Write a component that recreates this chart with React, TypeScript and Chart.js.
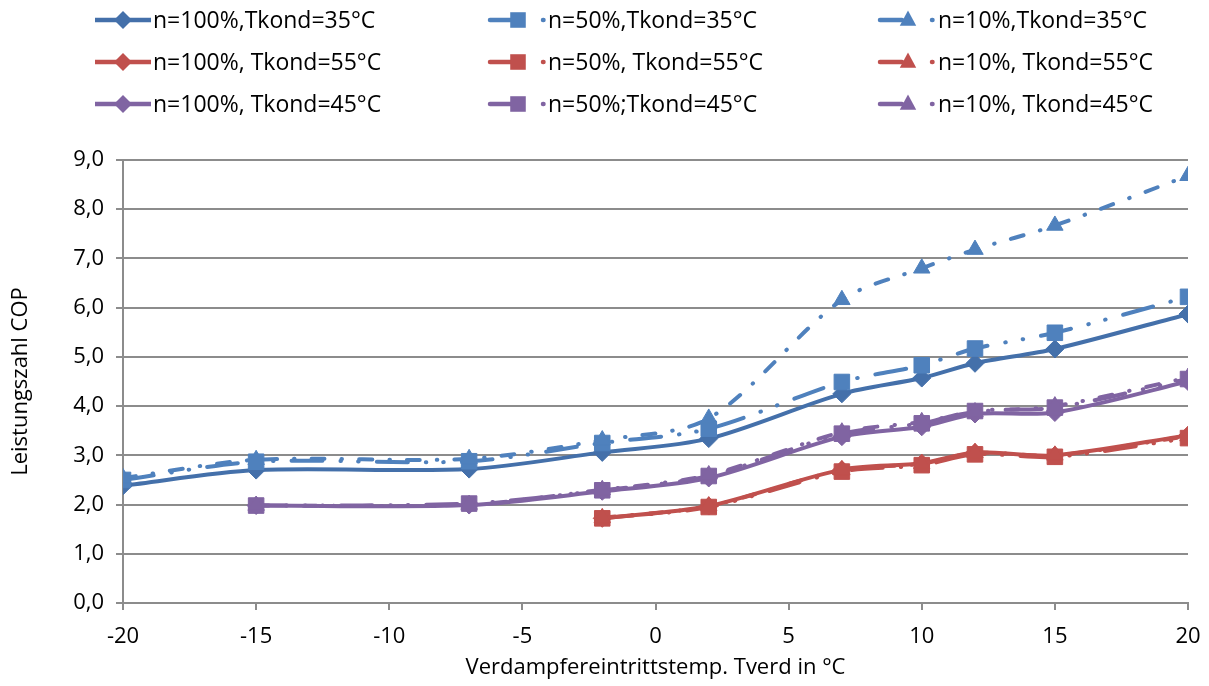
import { useEffect, useRef } from "react";
import { Chart, registerables } from "chart.js";

Chart.register(...registerables);

// ---- data ----
const xBlue = [-20, -15, -7, -2, 2, 7, 10, 12, 15, 20];
const xPurple = [-15, -7, -2, 2, 7, 10, 12, 15, 20];
const xRed = [-2, 2, 7, 10, 12, 15, 20];

const cop100_35 = [2.38, 2.7, 2.72, 3.06, 3.34, 4.25, 4.57, 4.87, 5.16, 5.87];
const cop50_35 = [2.5, 2.87, 2.88, 3.25, 3.54, 4.49, 4.83, 5.17, 5.49, 6.22];
const cop10_35 = [2.54, 2.91, 2.93, 3.31, 3.75, 6.16, 6.8, 7.18, 7.67, 8.68];
const cop100_55 = [1.72, 1.97, 2.71, 2.84, 3.06, 3.0, 3.41];
const cop50_55 = [1.72, 1.95, 2.67, 2.8, 3.02, 2.97, 3.35];
const cop10_55 = [1.73, 1.97, 2.7, 2.83, 3.05, 3.0, 3.39];
const cop100_45 = [1.98, 1.99, 2.27, 2.54, 3.38, 3.58, 3.84, 3.87, 4.5];
const cop50_45 = [1.98, 2.02, 2.29, 2.58, 3.44, 3.65, 3.9, 3.97, 4.55];
const cop10_45 = [1.98, 2.0, 2.3, 2.6, 3.47, 3.68, 3.88, 4.0, 4.58];

const seriesLabels = [
  "n=100%,Tkond=35°C",
  "n=50%,Tkond=35°C",
  "n=10%,Tkond=35°C",
  "n=100%, Tkond=55°C",
  "n=50%, Tkond=55°C",
  "n=10%, Tkond=55°C",
  "n=100%, Tkond=45°C",
  "n=50%;Tkond=45°C",
  "n=10%, Tkond=45°C",
];

const yTitle = "Leistungszahl COP";
const xTitle = "Verdampfereintrittstemp. Tverd in °C";

// ---- styles ----
const BLUE_DARK = "#4470AA";
const BLUE = "#4F81BD";
const RED = "#C0504D";
const PURPLE = "#8064A2";
const GRID = "#8c8c8c";
const FONT = '"Open Sans", "Noto Sans", sans-serif';

const DASH_50 = [31, 18, 0.5, 17, 0.5, 18];
const DASH_10 = [13, 17, 0.5, 17];
const LEG_DASH_50 = [28, 25, 0.5, 30];
const LEG_DASH_10 = [22, 30, 0.5, 30];

const LEG_COLS = [95, 490, 880];
const LEG_ROWS = [20, 62, 104];
const LEG_LEN = 56;

const toPts = (xs: number[], ys: number[]) => xs.map((x, i) => ({ x, y: ys[i] }));

function mk(label: string, xs: number[], ys: number[], color: string, kind: number, idx: number) {
  const style = kind === 0 ? "rectRot" : kind === 1 ? "rect" : "triangle";
  const radius = kind === 0 ? 9 : kind === 1 ? 11 : 9.5;
  return {
    label,
    data: toPts(xs, ys),
    borderColor: color,
    backgroundColor: color,
    borderWidth: 4,
    borderDash: kind === 0 ? [] : kind === 1 ? DASH_50 : DASH_10,
    legendDash: kind === 0 ? [] : kind === 1 ? LEG_DASH_50 : LEG_DASH_10,
    borderCapStyle: kind === 0 ? "butt" : "round",
    borderJoinStyle: "round",
    pointStyle: style,
    pointRadius: radius,
    pointBorderColor: color,
    pointBackgroundColor: color,
    pointBorderWidth: 1,
    tension: 0.3,
    fill: false,
    order: 9 - idx,
  };
}

function drawMarker(ctx: CanvasRenderingContext2D, style: string, x: number, y: number, r: number) {
  ctx.beginPath();
  if (style === "rectRot") {
    ctx.moveTo(x, y - r);
    ctx.lineTo(x + r, y);
    ctx.lineTo(x, y + r);
    ctx.lineTo(x - r, y);
  } else if (style === "rect") {
    const s = r * Math.SQRT1_2;
    ctx.rect(x - s, y - s, 2 * s, 2 * s);
  } else {
    ctx.moveTo(x, y - r);
    ctx.lineTo(x + r * 0.866, y + r * 0.5 + 1);
    ctx.lineTo(x - r * 0.866, y + r * 0.5 + 1);
  }
  ctx.closePath();
  ctx.fill();
}

const gridLegend = {
  id: "gridLegend",
  afterDraw(chart: any) {
    const ctx: CanvasRenderingContext2D = chart.ctx;
    chart.data.datasets.forEach((ds: any, i: number) => {
      const col = i % 3;
      const row = Math.floor(i / 3);
      const x0 = LEG_COLS[col];
      const y = LEG_ROWS[row];
      ctx.save();
      ctx.strokeStyle = ds.borderColor;
      ctx.fillStyle = ds.borderColor;
      ctx.lineWidth = ds.borderWidth + 0.5;
      ctx.lineCap = ds.borderCapStyle;
      ctx.setLineDash(ds.legendDash || []);
      ctx.beginPath();
      ctx.moveTo(x0, y);
      ctx.lineTo(x0 + LEG_LEN, y);
      ctx.stroke();
      ctx.setLineDash([]);
      drawMarker(ctx, ds.pointStyle, x0 + LEG_LEN / 2, y, ds.pointRadius);
      ctx.fillStyle = "#000";
      ctx.font = `23px ${FONT}`;
      ctx.textBaseline = "middle";
      ctx.textAlign = "left";
      ctx.fillText(ds.label, x0 + LEG_LEN + 2, y + 1);
      ctx.restore();
    });
  },
};

export default function App() {
  const ref = useRef<HTMLCanvasElement | null>(null);

  useEffect(() => {
    document.body.style.margin = "0";
    const canvas = ref.current;
    if (!canvas) return;
    const datasets = [
      mk(seriesLabels[0], xBlue, cop100_35, BLUE_DARK, 0, 0),
      mk(seriesLabels[1], xBlue, cop50_35, BLUE, 1, 1),
      mk(seriesLabels[2], xBlue, cop10_35, BLUE, 2, 2),
      mk(seriesLabels[3], xRed, cop100_55, RED, 0, 3),
      mk(seriesLabels[4], xRed, cop50_55, RED, 1, 4),
      mk(seriesLabels[5], xRed, cop10_55, RED, 2, 5),
      mk(seriesLabels[6], xPurple, cop100_45, PURPLE, 0, 6),
      mk(seriesLabels[7], xPurple, cop50_45, PURPLE, 1, 7),
      mk(seriesLabels[8], xPurple, cop10_45, PURPLE, 2, 8),
    ];
    const chart = new Chart(canvas, {
      type: "line",
      data: { datasets } as any,
      plugins: [gridLegend],
      options: {
        animation: false,
        responsive: true,
        maintainAspectRatio: false,
        layout: { padding: { top: 160, right: 21, left: 0, bottom: 0 } },
        plugins: { legend: { display: false }, tooltip: { enabled: false } },
        scales: {
          x: {
            type: "linear",
            min: -20,
            max: 20,
            ticks: { stepSize: 5, color: "#000", font: { family: FONT, size: 22 }, padding: 14 },
            grid: { drawOnChartArea: false, drawTicks: true, tickLength: 7, tickColor: GRID, lineWidth: 2 },
            border: { color: GRID, width: 2 },
            title: { display: true, text: xTitle, color: "#000", font: { family: FONT, size: 22 }, padding: { top: 0, bottom: 5 } },
            afterFit: (s: any) => {
              s.height = 83;
              s.paddingLeft = 0;
              s.paddingRight = 0;
            },
          },
          y: {
            min: 0,
            max: 9,
            ticks: {
              stepSize: 1,
              color: "#000",
              font: { family: FONT, size: 22 },
              padding: 12,
              callback: (v: any) => Number(v).toFixed(1).replace(".", ","),
            },
            grid: { color: GRID, lineWidth: 2, tickLength: 7, tickColor: GRID },
            border: { color: GRID, width: 2 },
            title: { display: true, text: yTitle, color: "#000", font: { family: FONT, size: 22 }, padding: { top: 8, bottom: 0 } },
            afterFit: (s: any) => {
              s.width = 123;
              s.paddingTop = 0;
              s.paddingBottom = 0;
            },
          },
        },
      } as any,
    });
    return () => chart.destroy();
  }, []);

  return (
    <div style={{ width: 1209, height: 686, position: "relative" }}>
      <canvas ref={ref} />
    </div>
  );
}
